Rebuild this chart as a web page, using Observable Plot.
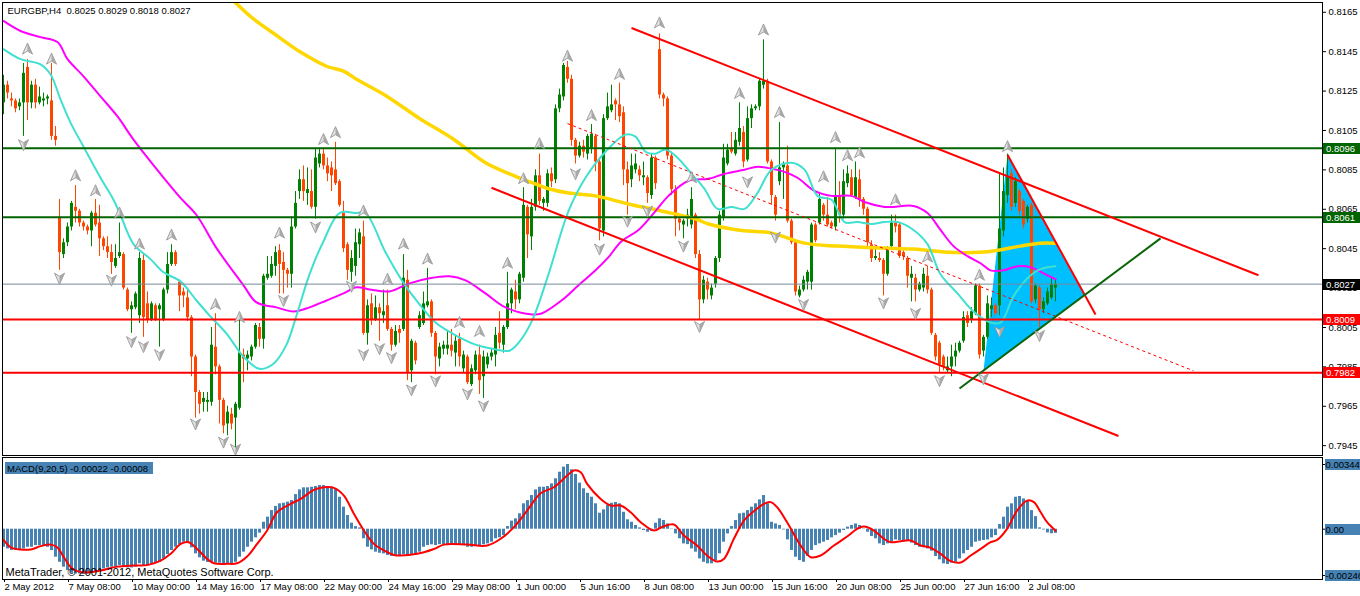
<!DOCTYPE html>
<html>
<head>
<meta charset="utf-8">
<script src="https://cdn.jsdelivr.net/npm/d3@7"></script>
<script src="https://cdn.jsdelivr.net/npm/@observablehq/plot@0.6"></script>
<style>
  html, body { margin: 0; padding: 0; background: #fff; }
  #chart { width: 1360px; height: 596px; overflow: hidden; }
  #chart svg { display: block; }
</style>
</head>
<body>
<div id="chart"></div>
<script>
// ---------------- DATA (prices in pips: 8119 = 0.8119) ----------------
const opens = [
8119,8128,8121,8120,8117,8119,8137,8119,8128,8119,
8120,8121,8120,8102,8061,8042,8048,8056,8066,8064,
8058,8056,8054,8063,8058,8050,8046,8043,8036,8041,
8042,8024,8014,8015,8011,8039,8017,8009,8016,8014,
8009,8024,8037,8043,8028,8023,8020,8010,7990,7972,
7967,7967,7967,7995,7985,7968,7956,7961,7959,7964,
7991,7989,7990,7995,8005,7999,8030,8031,8036,8044,
8038,8034,8032,8056,8074,8080,8073,8074,8066,8088,
8093,8087,8086,8085,8079,8063,8047,8033,8036,8047,
8051,8002,8017,8009,8015,8011,8016,8004,7996,8004,
8004,8029,7983,7997,8005,8007,8016,8018,8002,7989,
7994,7994,7996,7992,7999,7984,7990,7976,7983,7991,
7980,7986,7990,7991,8002,7996,8005,8017,8023,8019,
8030,8066,8051,8066,8082,8068,8068,8083,8080,8116,
8122,8137,8131,8100,8092,8097,8093,8096,8102,8089,
8054,8111,8115,8120,8118,8114,8085,8080,8085,8085,
8081,8081,8072,8091,8146,8123,8121,8092,8075,8060,
8057,8060,8057,8062,8042,8019,8028,8021,8027,8040,
8061,8088,8096,8093,8099,8104,8090,8111,8116,8117,
8128,8130,8089,8071,8079,8086,8087,8059,8048,8021,
8024,8028,8028,8057,8058,8067,8062,8058,8056,8072,
8062,8078,8081,8071,8080,8070,8065,8047,8040,8040,
8039,8032,8046,8058,8057,8043,8040,8030,8030,8024,
8025,8031,8024,8001,7997,7990,7983,7985,7990,7993,
7998,8011,8009,8012,8026,7993,8000,8014,8016,8016,
8054,8072,8083,8068,8074,8069,8060,8067,8019,8025,
8014,8017,8020,8025];
const highs = [
8133,8130,8124,8121,8121,8139,8141,8130,8131,8127,
8124,8123,8139,8107,8070,8050,8058,8069,8077,8065,
8059,8057,8064,8070,8067,8051,8051,8047,8047,8058,
8043,8025,8018,8023,8043,8042,8023,8018,8017,8017,
8025,8043,8047,8044,8029,8025,8024,8011,7991,7973,
7972,7972,8005,8012,7986,7969,7965,7964,7967,8010,
7994,7993,7996,8007,8007,8032,8041,8041,8046,8047,
8043,8035,8061,8074,8085,8087,8086,8085,8096,8096,
8096,8091,8089,8099,8080,8069,8048,8044,8055,8055,
8059,8019,8022,8021,8017,8024,8024,8005,8006,8006,
8042,8034,7999,7998,8013,8023,8035,8019,8003,7997,
7998,8003,8004,8001,8002,7993,7991,7986,7993,7996,
7993,7992,7994,8005,8013,8006,8033,8025,8029,8033,
8076,8067,8070,8085,8093,8071,8085,8086,8118,8126,
8139,8140,8133,8101,8099,8100,8103,8108,8103,8091,
8113,8124,8128,8121,8129,8117,8089,8093,8093,8087,
8089,8082,8093,8092,8154,8124,8122,8094,8077,8061,
8060,8065,8076,8063,8044,8031,8030,8027,8041,8064,
8098,8098,8104,8104,8119,8107,8117,8118,8118,8131,
8151,8131,8090,8072,8109,8089,8097,8060,8049,8026,
8031,8034,8058,8058,8073,8068,8071,8059,8096,8079,
8085,8087,8085,8089,8085,8071,8066,8049,8045,8043,
8040,8046,8062,8062,8058,8044,8041,8036,8032,8028,
8035,8036,8025,8002,7998,7991,7990,7996,7997,7998,
8013,8013,8015,8027,8027,8001,8021,8020,8017,8083,
8086,8093,8085,8081,8075,8070,8067,8068,8027,8026,
8020,8025,8030,8029];
const lows = [
8113,8121,8117,8114,8115,8102,8110,8116,8116,8118,
8117,8118,8100,8097,8034,8040,8046,8054,8058,8056,
8054,8052,8046,8056,8041,8044,8040,8032,8035,8040,
8024,8013,8002,8014,8007,8000,8007,8008,8008,7995,
8008,8022,8036,8036,8013,8015,8008,7980,7959,7961,
7962,7962,7965,7981,7956,7951,7950,7953,7943,7963,
7977,7983,7988,7994,7995,7994,8029,8030,8031,8022,
8022,8025,8025,8055,8070,8069,8067,8065,8060,8086,
8085,8079,8074,8077,8066,8043,8029,8028,8031,8040,
8001,7996,8006,8008,7998,8007,8003,7993,7995,7997,
8003,7978,7977,7986,8004,8006,8015,8000,7981,7985,
7991,7991,7990,7985,7985,7982,7976,7975,7981,7971,
7969,7984,7988,7985,7994,7992,8004,8012,8014,8017,
8028,8040,8044,8064,8067,8064,8066,8076,8078,8114,
8120,8129,8097,8088,8091,8091,8090,8093,8084,8049,
8051,8110,8114,8110,8109,8077,8062,8076,8083,8079,
8077,8068,8070,8075,8121,8117,8090,8072,8051,8054,
8050,8056,8055,8040,8009,8017,8019,8019,8025,8038,
8059,8087,8093,8092,8097,8086,8089,8106,8115,8115,
8126,8088,8067,8059,8077,8070,8058,8047,8021,8020,
8023,8024,8024,8048,8057,8059,8056,8055,8054,8058,
8060,8076,8071,8070,8066,8062,8046,8038,8039,8038,
8021,8031,8044,8053,8040,8039,8025,8018,8018,8023,
8023,8022,8001,7988,7982,7983,7982,7980,7985,7992,
7997,8005,8007,8011,7989,7990,7999,8010,8011,8011,
8051,8068,8064,8066,8062,8055,8058,8017,8017,8005,
8012,8016,8019,8018];
const closes = [
8128,8124,8120,8116,8119,8134,8119,8128,8119,8122,
8121,8122,8102,8100,8043,8048,8056,8068,8064,8058,
8056,8054,8063,8057,8050,8046,8043,8038,8040,8043,
8025,8014,8016,8022,8040,8010,8009,8017,8009,8016,
8024,8037,8043,8037,8021,8021,8010,7990,7972,7966,
7969,7968,7996,7985,7968,7955,7962,7956,7966,7992,
7989,7991,7995,8006,7999,8031,8032,8037,8043,8037,
8034,8032,8056,8068,8080,8074,8075,8066,8091,8093,
8087,8083,8082,8078,8067,8045,8034,8040,8048,8053,
8002,8016,8009,8015,8012,8013,8004,7996,8003,8002,
8030,7982,7998,7988,8011,8017,8018,8002,7990,7995,
7996,7996,7993,7998,7990,7991,7977,7984,7991,7978,
7990,7990,7992,8001,7997,8005,8017,8024,8019,8032,
8067,8052,8066,8082,8069,8070,8083,8079,8116,8123,
8138,8131,8100,8092,8097,8094,8102,8103,8089,8055,
8111,8117,8118,8118,8112,8085,8078,8087,8088,8082,
8082,8073,8091,8078,8123,8121,8092,8075,8060,8058,
8059,8062,8070,8042,8019,8029,8024,8025,8040,8062,
8091,8095,8094,8100,8106,8089,8111,8116,8117,8130,
8130,8089,8072,8062,8086,8088,8059,8048,8023,8024,
8029,8033,8057,8049,8070,8062,8057,8056,8071,8062,
8079,8083,8072,8081,8070,8065,8048,8040,8041,8039,
8032,8044,8058,8056,8041,8041,8031,8032,8024,8027,
8032,8024,8002,7990,7986,7985,7985,7990,7993,7997,
8010,8007,8013,8026,7991,8000,8017,8016,8012,8055,
8074,8081,8066,8079,8064,8057,8066,8018,8026,8014,
8018,8023,8027,8027];

// MACD(9,20,5) main histogram, in units of 0.00001
const macdHist = [
-96,-105,-113,-113,-113,-105,-96,-96,-87,-87,
-92,-96,-113,-149,-176,-202,-220,-234,-238,-238,
-241,-238,-234,-229,-220,-211,-206,-202,-199,-193,
-199,-206,-206,-202,-184,-193,-193,-184,-181,-176,
-158,-135,-113,-96,-82,-69,-74,-99,-131,-152,
-170,-177,-176,-181,-181,-184,-188,-184,-176,-149,
-122,-96,-69,-46,-21,37,64,99,121,135,
138,144,152,184,209,220,220,223,227,232,
232,227,223,215,170,117,73,32,14,7,
-51,-96,-110,-122,-128,-131,-140,-145,-145,-145,
-135,-140,-135,-131,-122,-96,-87,-83,-87,-82,
-82,-82,-82,-82,-83,-87,-96,-96,-87,-87,
-83,-78,-69,-51,-46,-34,14,43,55,82,
135,152,179,209,223,223,227,241,268,303,
330,344,316,291,245,215,191,170,135,85,
103,126,138,142,135,90,50,37,20,7,
-7,-16,-11,32,55,46,28,-2,-25,-51,
-78,-82,-105,-122,-158,-176,-184,-184,-167,-131,
-69,-25,14,46,82,85,99,117,135,156,
179,135,37,28,20,-4,-57,-113,-149,-167,
-176,-145,-113,-87,-78,-69,-60,-46,-34,-21,
-7,11,20,28,20,2,-16,-39,-51,-78,
-87,-78,-69,-57,-60,-60,-64,-74,-87,-96,
-99,-105,-117,-145,-163,-184,-188,-181,-176,-158,
-131,-113,-96,-69,-64,-60,-57,-46,-34,25,
64,117,135,170,174,161,152,99,67,7,
-4,-20,-24,-22];

// MACD signal line samples (bar position, value in 0.00001)
const sigIdx = [0,1.8,4.3,6.8,9.3,11.8,13.4,15.1,16.8,18.4,20.9,24.3,28.4,32.6,35.9,39.3,41.8,44.3,46.3,48.4,
50.9,52.6,55.9,58.4,60.9,63.4,65.9,68.4,71.8,74.3,77.6,80.1,82.6,85.1,87.6,90.1,92.6,95.1,97.6,99.3,
103.4,107.6,110.1,115.9,120.9,124.3,127.6,130.9,134.3,137.6,140.9,142.6,144.3,145.9,149.3,151.8,154.3,156.8,159.3,162.6,
164.9,167.6,170.1,173.4,175.9,178.4,180.1,182.6,185.1,187.6,190.1,191.8,193.4,195.9,199.3,201.8,204.3,207.6,210.9,213.4,
215.1,217.6,220.1,221.8,224.3,226.8,229.3,231.8,234.3,236.8,239.3,241.8,244.3,246.8,248.4,250.9,253.4,255.9,257.6,259.3,
260.9,263];
const sigVal = [-57,-96,-108,-108,-90,-82,-96,-149,-202,-223,-230,-220,-199,-193,-191,-167,-131,-78,-69,-105,
-158,-181,-184,-181,-145,-78,-7,90,135,161,209,223,220,179,82,-7,-78,-113,-137,-140,
-131,-105,-82,-82,-87,-51,11,99,191,223,285,312,303,241,161,126,126,90,37,-7,
14,25,-34,-87,-140,-172,-158,-51,46,96,135,144,117,37,-87,-149,-140,-87,-39,2,
14,-7,-51,-69,-64,-60,-87,-99,-131,-170,-177,-140,-105,-69,-57,2,99,152,144,90,
37,-8];

// Moving averages (bar position, price in pips)
const cyanIdx = [0,4.25,9.25,11.75,14.25,16.75,20,24.25,27.5,29.25,32.5,36.75,40,44.25,48.25,51.5,55.75,60,64,67.5,
70.75,73.25,76.5,80,84,88.25,90.5,95.5,99.75,104,108,112.25,118,122.25,126.5,129,132.25,136.25,141.25,145.5,
150.5,155.5,158,160.5,163,165.5,168.75,172,175.25,178.5,182,185.25,188.5,192,197,200.25,203.5,207,210.25,213.5,
217,220.25,223.5,227.5,231,234.25,238.5,242.5,246.75,249.25,252.5,256,259.25,263];
const cyanVal = [8146.3,8141.2,8138.6,8133.5,8120.8,8109.0,8096.8,8081.0,8069.8,8062.1,8047.3,8039.7,8033.0,8028.4,8018.7,8011.1,8001.9,7990.2,7984.0,7986.6,
7996.3,8011.1,8032.0,8048.8,8063.1,8063.1,8063.1,8043.2,8028.4,8016.7,8007.5,8001.9,7996.3,7994.2,7993.2,7997.8,8009.0,8032.0,8064.1,8081.0,
8094.2,8102.9,8101.9,8094.2,8093.2,8095.3,8090.7,8083.0,8075.4,8065.2,8066.2,8065.2,8073.3,8085.1,8088.6,8085.1,8071.8,8069.8,8058.5,8058.5,
8057.5,8058.5,8058.5,8054.5,8047.3,8032.0,8022.3,8013.1,8007.5,8007.5,8020.8,8030.0,8034.6,8036.1];
const magentaIdx = [0,4.25,9.25,13.5,16,20,24.25,28.5,32.5,39.25,44.25,48.25,53.25,60,63.25,68.25,72.5,76.5,80.75,85,
88.25,91.5,96.5,101.5,106.5,111.5,115.5,120.5,125.5,132.25,134.5,139.5,143.75,148,151.25,154.5,158.75,163,166.25,171.25,
176.25,180.25,185.25,188.5,192,195.25,198.5,202.75,207,212,215.25,220.25,222.5,227.5,231,234.25,237.5,241,244.25,246.75,
250,253.5,256.75,260,263];
const magentaVal = [8160.6,8155.5,8152.4,8149.9,8141.2,8132.5,8122.3,8112.1,8100.4,8083.0,8070.8,8062.1,8045.3,8026.4,8017.7,8015.2,8013.1,8015.2,8018.7,8022.3,
8025.4,8024.3,8023.3,8027.4,8030.0,8031.0,8028.9,8022.3,8015.2,8011.6,8012.1,8018.7,8026.4,8034.0,8040.7,8048.8,8054.5,8064.1,8071.8,8079.5,
8080.5,8083.0,8085.1,8086.6,8085.6,8084.0,8081.0,8074.3,8071.8,8071.8,8068.7,8066.2,8066.2,8066.7,8063.1,8054.5,8046.3,8041.2,8037.6,8034.0,
8034.0,8036.1,8035.6,8032.5,8029.5];
const goldIdx = [57.25,62.5,68.5,74.25,80.75,85,88.25,95.5,104,112.25,120.5,126.5,132.25,136.25,141.25,148,156.25,164.5,173,176.25,
183.5,192,200.25,208.5,220.25,227.5,236,244.25,248.5,254.25,259.25,263];
const goldVal = [8171.3,8161.6,8152.9,8144.8,8137.6,8135.1,8131.0,8122.8,8111.1,8100.9,8088.6,8083.0,8078.4,8075.4,8073.3,8071.8,8067.7,8064.1,8060.1,8057.5,
8054.5,8052.9,8047.8,8046.3,8045.3,8044.8,8043.2,8043.2,8044.2,8046.3,8047.8,8047.8];

// Fractals (bar, price in pips)
const upIdx = [6,12,18,23,29,34,42,53,59,69,80,83,90,96,100,106,114,119,126,130,134,141,147,154,164,172,184,190,194,205,208,211,214,223,231,244,251];
const upVal = [8146.3,8141.2,8082.0,8074.4,8063.1,8047.3,8051.9,8016.7,8010.1,8052.9,8100.4,8103.9,8064.1,8029.5,8047.3,8039.7,8007.5,8003.0,8037.6,8080.5,
8098.3,8142.7,8112.6,8133.5,8159.6,8081.0,8123.8,8156.0,8114.1,8081.5,8101.4,8092.2,8093.7,8069.8,8040.7,8031.5,8096.8];
const downIdx = [5,14,27,32,35,39,48,55,58,70,78,87,90,94,97,102,108,116,120,143,149,156,161,170,174,186,193,200,220,228,234,245,249,259];
const downVal = [8097.8,8030.0,8029.0,7997.8,7995.3,7991.2,7956.0,7946.8,7943.2,8018.7,8056.0,8025.9,7991.2,7994.2,7989.7,7973.3,7977.9,7971.3,7965.2,8083.0,
8044.8,8059.0,8064.1,8046.3,8005.5,8078.9,8050.9,8016.7,8017.5,8012.1,7978.0,7979.0,8002.9,8000.9];

// Drawn objects (bar, price in pips)
const greenLevels = [8096, 8061];
const redLevels = [8009, 7982];
const bidLevel = [8027];
const channelX1 = [157, 122, 251];
const channelY1 = [8157.0, 8075.9, 8092.7];
const channelX2 = [313.75, 278.75, 273];
const channelY2 = [8031.5, 7949.9, 8011.6];
const midX1 = [141], midY1 = [8108.5], midX2 = [297.5], midY2 = [7983.0];
const trendX1 = [239], trendY1 = [7974.0], trendX2 = [289.25], trendY2 = [8050.2];
const triIdx = [245, 251, 270.25, 245];
const triVal = [7983.0, 8092.7, 8021.3, 7983.0];

// Axis ticks and labels
const priceTicks = [8165,8145,8125,8105,8085,8065,8045,8025,8005,7985,7965,7945];
const tagPrices = [8096, 8061, 8027, 8009, 7982];
const tagLabels = ["0.8096", "0.8061", "0.8027", "0.8009", "0.7982"];
const macdTicks = [344, 0, -246];
const macdTickLabels = ["0.00344", "0.00", "-0.00246"];
const timeIdx = [0,16,32,48,64,80,96,112,128,144,160,176,192,208,224,240,256];
const timeLabels = ["2 May 2012","7 May 08:00","10 May 00:00","14 May 16:00","17 May 08:00","22 May 00:00","24 May 16:00","29 May 08:00",
"1 Jun 00:00","5 Jun 16:00","8 Jun 08:00","13 Jun 00:00","15 Jun 16:00","20 Jun 08:00","25 Jun 00:00","27 Jun 16:00","2 Jul 08:00"];
const titleText = "EURGBP,H4\u00a0\u00a00.8025 0.8029 0.8018 0.8027";
const macdTitle = "MACD(9,20,5) -0.00022 -0.00008";
const copyright = "MetaTrader, \u00a9 2001-2012, MetaQuotes Software Corp.";

// ---------------- BUILD ----------------
const FONT = "'Liberation Sans', Arial, sans-serif";
const px = v => v / 1e4;
const mv = v => v / 1e5;
const bars = opens.map((o, i) => ({i, o: px(o), h: px(highs[i]), l: px(lows[i]), c: px(closes[i])}));
const barColor = d => d.c >= d.o ? "#008000" : "#FF4500";
const pts = (idx, val, f) => idx.map((x, k) => ({x, y: f(val[k])}));
const segs = (x1, y1, x2, y2) => x1.map((x, k) => ({x1: x, y1: px(y1[k]), x2: x2[k], y2: px(y2[k])}));
const macdBars = macdHist.map((v, i) => ({i, v: mv(v)}));
const tickText = new Map(timeIdx.map((t, k) => [t, timeLabels[k]]));

const arrowUp = {draw(ctx) { ctx.moveTo(0, -6); ctx.lineTo(5, 5); ctx.lineTo(0, 2); ctx.lineTo(-5, 5); ctx.closePath(); }};
const arrowUpR = {draw(ctx) { ctx.moveTo(0, -6); ctx.lineTo(5, 5); ctx.lineTo(0, 2); ctx.closePath(); }};
const arrowDn = {draw(ctx) { ctx.moveTo(0, 6); ctx.lineTo(5, -5); ctx.lineTo(0, -2); ctx.lineTo(-5, -5); ctx.closePath(); }};
const arrowDnR = {draw(ctx) { ctx.moveTo(0, 6); ctx.lineTo(5, -5); ctx.lineTo(0, -2); ctx.closePath(); }};

function tags(vals, labels, bgs, fgs, xoff, tpad) {
  return (index, scales, values, dims) => {
    const g = d3.create("svg:g").attr("font-size", 9.5).attr("text-anchor", "start");
    const x0 = dims.width - dims.marginRight + xoff;
    vals.forEach((v, k) => {
      const y = Math.round(scales.y(v));
      g.append("rect").attr("x", x0).attr("y", y - 5).attr("width", 40).attr("height", 11).attr("fill", bgs[k]);
      g.append("text").attr("x", x0 + tpad).attr("y", y + 4).attr("fill", fgs[k]).text(labels[k]);
    });
    return g.node();
  };
}
function labelBox(text, w) {
  return (index, scales, values, dims) => {
    const g = d3.create("svg:g").attr("font-size", 9.5).attr("text-anchor", "start");
    g.append("rect").attr("x", dims.marginLeft + 3).attr("y", dims.marginTop + 5).attr("width", w).attr("height", 12).attr("fill", "#4682B4");
    g.append("text").attr("x", dims.marginLeft + 5).attr("y", dims.marginTop + 14.5).attr("fill", "#000").text(text);
    return g.node();
  };
}

const xDomain = [-0.25, 329.75];
const style = {fontFamily: FONT, fontSize: "9.5px", background: "white", color: "black"};

const main = Plot.plot({
  width: 1360, height: 456,
  marginLeft: 2, marginRight: 38, marginTop: 2, marginBottom: 1,
  style,
  x: {domain: xDomain, axis: null},
  y: {domain: [0.7940010, 0.8169959]},
  marks: [
    Plot.line(pts(triIdx, triVal, px), {x: "x", y: "y", fill: "#00BFFF", stroke: "none", curve: "linear-closed"}),
    Plot.ruleX(bars, {x: "i", y1: "l", y2: "h", stroke: barColor, strokeWidth: 1, clip: true}),
    Plot.ruleX(bars, {x: "i", y1: "o", y2: "c", stroke: barColor, strokeWidth: 3, clip: true}),
    Plot.line(pts(goldIdx, goldVal, px), {x: "x", y: "y", stroke: "#FFD700", strokeWidth: 3.5, curve: "catmull-rom", clip: true}),
    Plot.line(pts(magentaIdx, magentaVal, px), {x: "x", y: "y", stroke: "#FF00FF", strokeWidth: 2, curve: "catmull-rom", clip: true}),
    Plot.line(pts(cyanIdx, cyanVal, px), {x: "x", y: "y", stroke: "#40E0D0", strokeWidth: 2, curve: "catmull-rom", clip: true}),
    Plot.ruleY(bidLevel.map(px), {stroke: "#778899", strokeWidth: 1}),
    Plot.ruleY(greenLevels.map(px), {stroke: "#006400", strokeWidth: 2}),
    Plot.ruleY(redLevels.map(px), {stroke: "#FF0000", strokeWidth: 2}),
    Plot.link(segs(midX1, midY1, midX2, midY2), {x1: "x1", y1: "y1", x2: "x2", y2: "y2", stroke: "#FF0000", strokeWidth: 1, strokeDasharray: "3,3", clip: true}),
    Plot.link(segs(channelX1, channelY1, channelX2, channelY2), {x1: "x1", y1: "y1", x2: "x2", y2: "y2", stroke: "#FF0000", strokeWidth: 2, clip: true}),
    Plot.link(segs(trendX1, trendY1, trendX2, trendY2), {x1: "x1", y1: "y1", x2: "x2", y2: "y2", stroke: "#0A640A", strokeWidth: 2, clip: true}),
    Plot.dot(pts(upIdx, upVal, px), {x: "x", y: "y", symbol: arrowUp, fill: "#e2e2e2", stroke: "#8a8a8a", strokeWidth: 0.8}),
    Plot.dot(pts(upIdx, upVal, px), {x: "x", y: "y", symbol: arrowUpR, fill: "#a8a8a8", stroke: "none"}),
    Plot.dot(pts(downIdx, downVal, px), {x: "x", y: "y", symbol: arrowDn, fill: "#e2e2e2", stroke: "#8a8a8a", strokeWidth: 0.8}),
    Plot.dot(pts(downIdx, downVal, px), {x: "x", y: "y", symbol: arrowDnR, fill: "#a8a8a8", stroke: "none"}),
    Plot.text([titleText], {frameAnchor: "top-left", textAnchor: "start", lineAnchor: "middle", dx: 5, dy: 8.7, fill: "black"}),
    Plot.axisY(priceTicks.map(px), {anchor: "right", tickSize: 3, tickPadding: 3, tickFormat: d3.format(".4f"), label: null}),
    tags(tagPrices.map(px), tagLabels, ["#006400", "#006400", "#000000", "#FF0000", "#FF0000"], ["#fff", "#fff", "#fff", "#fff", "#fff"], 1, 3),
    Plot.frame({stroke: "black"})
  ]
});

const macd = Plot.plot({
  width: 1360, height: 140,
  marginLeft: 2, marginRight: 38, marginTop: 1, marginBottom: 17,
  style,
  x: {domain: xDomain},
  y: {domain: [-0.0026744, 0.0038123]},
  marks: [
    Plot.ruleX(macdBars, {x: "i", y1: 0, y2: "v", stroke: "#4682B4", strokeWidth: 3, clip: true}),
    Plot.line(pts(sigIdx, sigVal, mv), {x: "x", y: "y", stroke: "#FF0000", strokeWidth: 2, curve: "catmull-rom", clip: true}),
    labelBox(macdTitle, 148),
    Plot.text([copyright], {frameAnchor: "bottom-left", textAnchor: "start", lineAnchor: "middle", dx: 3, dy: -7.5, fontSize: 11, fill: "black"}),
    Plot.axisY(macdTicks.map(mv), {anchor: "right", tickSize: 3, tickFormat: () => "", label: null}),
    tags(macdTicks.map(mv), macdTickLabels, ["#4682B4", "#4682B4", "#4682B4"], ["#000", "#000", "#000"], 3, 0.5),
    Plot.axisX(timeIdx, {anchor: "bottom", tickSize: 3, tickPadding: 1, tickFormat: d => tickText.get(d), textAnchor: "start", dx: 1, label: null}),
    Plot.frame({stroke: "black"})
  ]
});

const root = document.getElementById("chart");
root.appendChild(main);
root.appendChild(macd);
</script>
</body>
</html>
